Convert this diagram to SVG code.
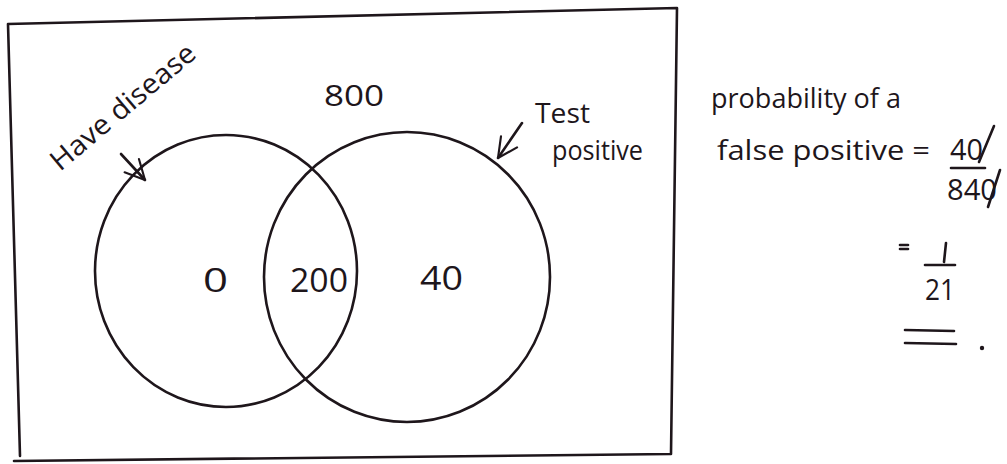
<svg xmlns="http://www.w3.org/2000/svg" width="1007" height="464" viewBox="0 0 1007 464">
  <defs>
    <style>
      .ink { fill: none; stroke: #1e161b; stroke-width: 2.6; stroke-linecap: round; stroke-linejoin: round; }
      .t { font-family: "Open Sans", "Liberation Sans", sans-serif; fill: #1e161b; }
    </style>
    <marker id="arr" viewBox="0 0 12 12" refX="11" refY="6" markerWidth="9" markerHeight="9" markerUnits="strokeWidth" orient="auto">
      <path d="M1,1 L11,6 L1,11" fill="none" stroke="#1e161b" stroke-width="1.1" stroke-linecap="round" stroke-linejoin="round"/>
    </marker>
  </defs>
  <rect width="1007" height="464" fill="#ffffff"/>

  <g id="frame">
    <path class="ink" d="M8,24 L677,8 L671,454 L14,461 M8,24 L20,456"/>
  </g>

  <g id="have-disease">
    <ellipse class="ink" cx="226" cy="271" rx="131" ry="136"/>
    <text class="t" font-size="28" transform="translate(60,172) rotate(-40)" textLength="180" lengthAdjust="spacingAndGlyphs">Have disease</text>
  </g>

  <g id="test-positive">
    <ellipse class="ink" cx="407" cy="277" rx="143" ry="145"/>
    <text class="t" font-size="27" x="535" y="123" textLength="55" lengthAdjust="spacingAndGlyphs">Test</text>
    <text class="t" font-size="27" x="552" y="160" textLength="91" lengthAdjust="spacingAndGlyphs">positive</text>
  </g>

  <g id="total">
    <text class="t" font-size="29" x="324" y="106" textLength="60" lengthAdjust="spacingAndGlyphs">800</text>
  </g>

  <g id="regions">
    <text class="t" font-size="32" x="203" y="292" textLength="25" lengthAdjust="spacingAndGlyphs">0</text>
    <text class="t" font-size="32" x="290" y="292" textLength="58" lengthAdjust="spacingAndGlyphs">200</text>
    <text class="t" font-size="32" x="420" y="290" textLength="43" lengthAdjust="spacingAndGlyphs">40</text>
  </g>

  <g id="connectors">
    <line class="ink" x1="121" y1="154" x2="145" y2="180" marker-end="url(#arr)"/>
    <line class="ink" x1="522" y1="123" x2="498" y2="158" marker-end="url(#arr)"/>
  </g>

  <g id="calculation">
    <text class="t" font-size="27" x="711" y="108" textLength="190" lengthAdjust="spacingAndGlyphs">probability of a</text>
    <text class="t" font-size="27" x="717" y="160" textLength="213" lengthAdjust="spacingAndGlyphs">false positive =</text>
    <text class="t" font-size="29" x="950" y="160" textLength="33" lengthAdjust="spacingAndGlyphs">40</text>
    <line class="ink" x1="979" y1="162" x2="994" y2="126"/>
    <line class="ink" x1="951" y1="168" x2="985" y2="168"/>
    <text class="t" font-size="29" x="947" y="200" textLength="50" lengthAdjust="spacingAndGlyphs">840</text>
    <line class="ink" x1="988" y1="207" x2="1000" y2="170"/>
    <line class="ink" x1="900" y1="245" x2="908" y2="245"/>
    <line class="ink" x1="900" y1="249" x2="908" y2="249"/>
    <line class="ink" x1="946" y1="243" x2="944" y2="262"/>
    <line class="ink" x1="925" y1="265" x2="955" y2="265"/>
    <text class="t" font-size="30" x="925" y="300" textLength="30" lengthAdjust="spacingAndGlyphs">21</text>
    <line class="ink" x1="905" y1="330" x2="954" y2="331"/>
    <line class="ink" x1="905" y1="343" x2="956" y2="344"/>
    <circle cx="982" cy="348" r="2.2" fill="#1e161b"/>
  </g>
</svg>
